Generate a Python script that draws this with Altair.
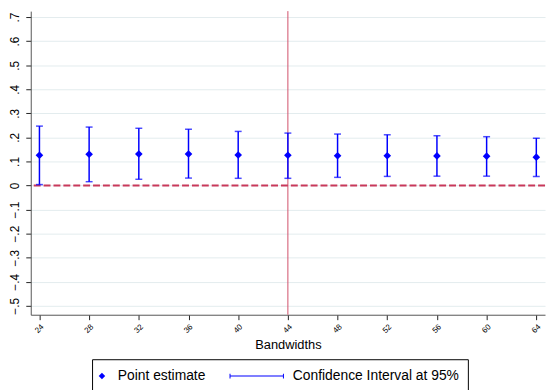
import altair as alt
import pandas as pd

bandwidths = [24, 28, 32, 36, 40, 44, 48, 52, 56, 60, 64]
estimates = [0.126, 0.130, 0.131, 0.131, 0.127, 0.126, 0.124, 0.124, 0.123, 0.122, 0.118]
ci_low = [0.004, 0.016, 0.026, 0.031, 0.030, 0.030, 0.034, 0.038, 0.039, 0.039, 0.038]
ci_high = [0.247, 0.243, 0.238, 0.234, 0.225, 0.218, 0.214, 0.211, 0.207, 0.203, 0.197]
series_names = ["Point estimate", "Confidence Interval at 95%"]
y_ticks = [-0.5, -0.4, -0.3, -0.2, -0.1, 0.0, 0.1, 0.2, 0.3, 0.4, 0.5, 0.6, 0.7]
ref_bandwidth = [44]
zero_line = [0]

df = pd.DataFrame({
    "bw": bandwidths,
    "est": estimates,
    "lo": ci_low,
    "hi": ci_high,
    "series": [series_names[0]] * len(bandwidths),
})

FONT = "Liberation Sans"
BLUE = "#0000ff"

xscale = alt.Scale(domain=[23.3, 64.7], nice=False, zero=False)
yscale = alt.Scale(domain=[-0.537, 0.725], nice=False, zero=False)

xaxis = alt.Axis(
    values=bandwidths, title="Bandwidths", labelAngle=315, labelFontSize=8,
    labelFont=FONT, titleFont=FONT, titleFontSize=13, titleFontWeight="normal",
    titleColor="black", labelColor="black", grid=False, tickSize=5,
    tickColor="#222", domainColor="#555", labelPadding=3, titlePadding=4,
    labelOverlap=False,
)
yaxis = alt.Axis(
    values=y_ticks, title=None, labelAngle=270, labelFontSize=12, labelFont=FONT,
    labelColor="black", tickSize=5, tickColor="#222", domainColor="#555",
    grid=True, gridColor="#e3ecee", gridWidth=1, labelPadding=4,
    labelOverlap=False, labelSeparation=0,
    labelExpr="datum.value == 0 ? '0' : replace(format(datum.value, '.1f'), '0.', '.')",
)

def X(field):
    return alt.X(field, scale=xscale, axis=xaxis)

def Y(field):
    return alt.Y(field, scale=yscale, axis=yaxis)

base = alt.Chart(df)

vline = alt.Chart(pd.DataFrame({"v": ref_bandwidth})).mark_rule(
    color="#d0506a", strokeWidth=1
).encode(x=X("v:Q"))

hline = alt.Chart(pd.DataFrame({"z": zero_line})).mark_rule(
    color="#c8385a", strokeWidth=2, strokeDash=[7, 3]
).encode(y=Y("z:Q"))

ci = base.mark_rule(color=BLUE, strokeWidth=1.5).encode(
    x=X("bw:Q"), y=Y("lo:Q"), y2="hi:Q"
)
cap_lo = base.mark_tick(orient="horizontal", color=BLUE, size=7, thickness=1.5).encode(
    x=X("bw:Q"), y=Y("lo:Q")
)
cap_hi = base.mark_tick(orient="horizontal", color=BLUE, size=7, thickness=1.5).encode(
    x=X("bw:Q"), y=Y("hi:Q")
)
points = base.mark_point(
    shape="diamond", filled=True, color=BLUE, opacity=1, size=60
).encode(x=X("bw:Q"), y=Y("est:Q"))

# legend-only layer (no drawn data); symbols are custom paths
diamond_path = "M-1.285,0L-0.875,-0.41L-0.465,0L-0.875,0.41Z"
ci_path = ("M-6.875,-0.3L-6.75,-0.3L-6.75,-0.0625L-0.125,-0.0625L-0.125,-0.3L0,-0.3"
           "L0,0.3L-0.125,0.3L-0.125,0.0625L-6.75,0.0625L-6.75,0.3L-6.875,0.3Z")
leg = alt.Legend(
    title=None, orient="none", legendX=62, legendY=352, direction="horizontal",
    columns=2, strokeColor="black", padding=8, fillColor="white",
    labelFont=FONT, labelFontSize=14, labelColor="black", labelOffset=0,
    labelLimit=400, columnPadding=21, symbolSize=256, symbolFillColor=BLUE,
)
legend_layer = base.mark_point(filled=True, color=BLUE, opacity=1).encode(
    shape=alt.Shape("series:N", scale=alt.Scale(domain=series_names, range=[diamond_path, ci_path]), legend=leg),
).transform_filter("false")

chart = alt.layer(vline, hline, ci, cap_lo, cap_hi, points, legend_layer).properties(
    width=520, height=307, padding=0, background="white"
).configure_view(stroke=None).configure_axis(domainWidth=1).configure_axisY(labelOverlap=False)

chart.save("out.html", embed_options={"renderer": "svg", "actions": False})
